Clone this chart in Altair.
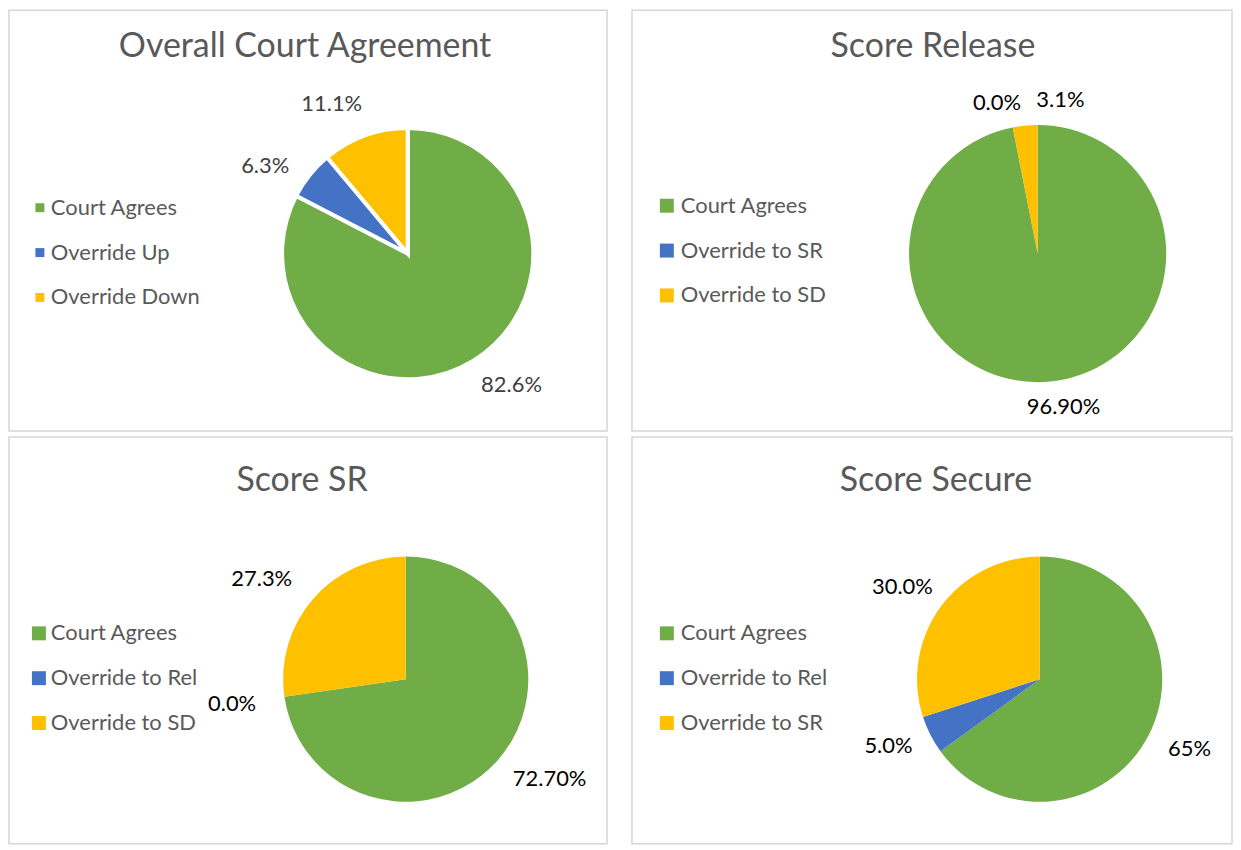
import altair as alt
import pandas as pd

# ---------------- data ----------------
titles = ["Overall Court Agreement", "Score Release", "Score SR", "Score Secure"]
categories = [
    ["Court Agrees", "Override Up", "Override Down"],
    ["Court Agrees", "Override to SR", "Override to  SD"],
    ["Court Agrees", "Override to Rel", "Override to SD"],
    ["Court Agrees", "Override to Rel", "Override to SR"],
]
values = [
    [82.6, 6.3, 11.1],
    [96.9, 0.0, 3.1],
    [72.7, 0.0, 27.3],
    [65.0, 5.0, 30.0],
]
value_labels = [
    ["82.6%", "6.3%", "11.1%"],
    ["96.90%", "0.0%", "3.1%"],
    ["72.70%", "0.0%", "27.3%"],
    ["65%", "5.0%", "30.0%"],
]
colors = ["#70AD47", "#4472C4", "#FFC000"]

# ---------------- layout / style ----------------
layout = [
    dict(w=600, h=422, cx=400, cy=244, r=126, stroke=4, lr=168, rot=-7, nudge=[0, 0, 0],
         tx=297, ty=37, lx=20, ly=187, sym=81, loff=0, lcol="#404040"),
    dict(w=602, h=422, cx=407, cy=244, r=129, stroke=0, lr=156, rot=-4, nudge=[0, 0, 18],
         tx=302, ty=37, lx=24, ly=185, sym=196, loff=3, lcol="#000000"),
    dict(w=600, h=408, cx=398, cy=243, r=123, stroke=0, lr=176, rot=-6, nudge=[0, 6, 0],
         tx=294, ty=44, lx=19, ly=186, sym=196, loff=1, lcol="#000000"),
    dict(w=602, h=408, cx=409, cy=243, r=123, stroke=0, lr=166, rot=-2, nudge=[0, 5, 0],
         tx=305, ty=44, lx=24, ly=186, sym=196, loff=3, lcol="#000000"),
]

FONT = "Lato"


def panel(i):
    L = layout[i]
    df = pd.DataFrame({
        "idx": list(range(len(categories[i]))),
        "category": categories[i],
        "value": values[i],
        "label": value_labels[i],
        "nudge": L["nudge"],
    })
    base = alt.Chart(df)
    arc_kwargs = dict(radius=L["r"])
    if L["stroke"]:
        arc_kwargs.update(stroke="white", strokeWidth=L["stroke"])
    arc = base.mark_arc(**arc_kwargs).encode(
        theta=alt.Theta("value:Q", stack=True),
        order=alt.Order("idx:Q"),
        color=alt.Color(
            "category:N",
            scale=alt.Scale(domain=categories[i], range=colors),
            legend=alt.Legend(
                title=None, orient="none", legendX=L["lx"], legendY=L["ly"],
                symbolType="square", symbolSize=L["sym"], symbolStrokeWidth=0,
                labelFontSize=22, labelFont=FONT, labelColor="#595959",
                rowPadding=23, labelOffset=L["loff"], padding=0,
            ),
        ),
        x=alt.value(L["cx"]),
        y=alt.value(L["cy"]),
    )
    text = base.transform_joinaggregate(
        total="sum(value)"
    ).transform_window(
        cum="sum(value)", sort=[alt.SortField("idx")], frame=[None, 0]
    ).transform_calculate(
        ang=f"((datum.cum - datum.value/2)/datum.total)*2*PI + ({L['rot']} + datum.nudge)*PI/180"
    ).transform_calculate(
        px=f"{L['cx']} + {L['lr']}*sin(datum.ang)",
        py=f"{L['cy']} - {L['lr']}*cos(datum.ang)",
    ).mark_text(font=FONT, fontSize=22, color=L["lcol"], align="center", baseline="middle").encode(
        x=alt.X("px:Q", scale=None, axis=None),
        y=alt.Y("py:Q", scale=None, axis=None),
        text="label:N",
    )
    title = alt.Chart(pd.DataFrame({"t": [titles[i]]})).mark_text(
        font=FONT, fontSize=34, color="#595959", align="center", baseline="middle"
    ).encode(text="t:N", x=alt.value(L["tx"]), y=alt.value(L["ty"]))
    return alt.layer(arc, text, title).properties(width=L["w"], height=L["h"])


top = alt.hconcat(panel(0), panel(1), spacing=23).resolve_scale(color="independent")
bottom = alt.hconcat(panel(2), panel(3), spacing=23).resolve_scale(color="independent")
chart = alt.vconcat(top, bottom, spacing=4).resolve_scale(color="independent").properties(
    padding=0
).configure_view(stroke="#d6d6d6", strokeWidth=1.5)

chart.save("out.html", embed_options={"renderer": "svg", "actions": False})
